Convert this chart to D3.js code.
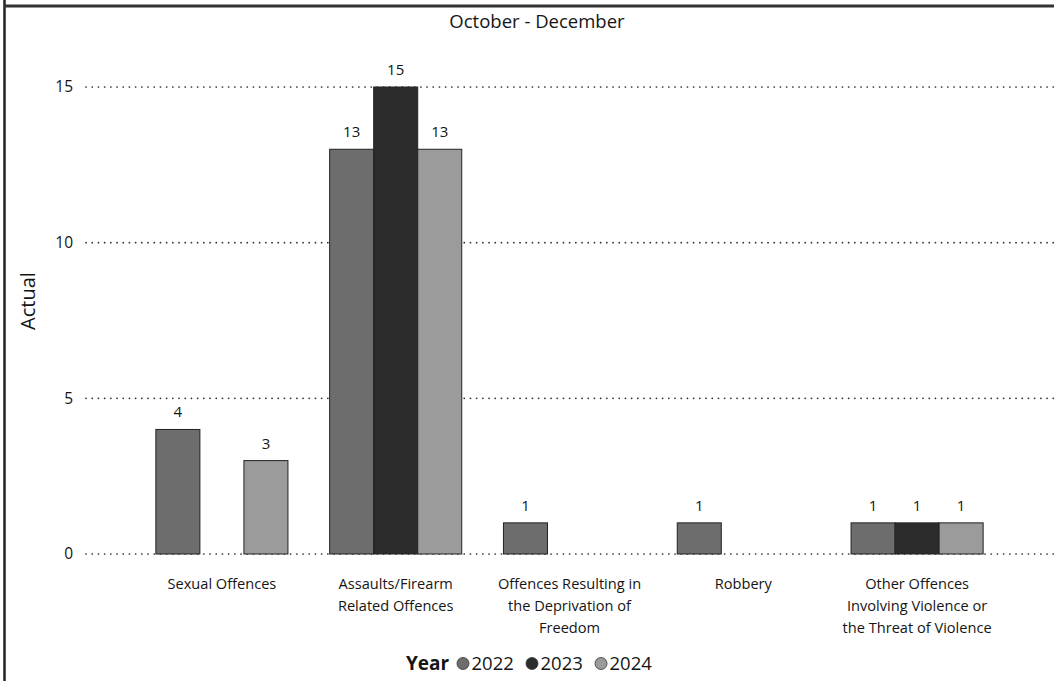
<!DOCTYPE html>
<html><head><meta charset="utf-8">
<script src="https://cdn.jsdelivr.net/npm/d3@7"></script>
<style>body{margin:0;background:#fff}svg{display:block}text{font-family:"Open Sans","Noto Sans",sans-serif;fill:#151515}</style>
</head><body><svg id="c" width="1054" height="681"></svg>
<script>
const categories = [
  ["Sexual Offences"],
  ["Assaults/Firearm", "Related Offences"],
  ["Offences Resulting in", "the Deprivation of", "Freedom"],
  ["Robbery"],
  ["Other Offences", "Involving Violence or", "the Threat of Violence"]
];
const years = ["2022", "2023", "2024"];
const values2022 = [4, 13, 1, 1, 1];
const values2023 = [null, 15, null, null, 1];
const values2024 = [3, 13, null, null, 1];
const yTicks = [0, 5, 10, 15];
const title = "October - December";
const yLabel = "Actual";
const legendTitle = "Year";
const colors = ["#6d6d6d", "#2c2c2c", "#9b9b9b"];

const series = [values2022, values2023, values2024];
const svg = d3.select("#c");

// frame
svg.append("line").attr("x1",4.5).attr("x2",4.5).attr("y1",0).attr("y2",681).attr("stroke","#222").attr("stroke-width",2.5);
svg.append("line").attr("x1",4).attr("x2",1054).attr("y1",6).attr("y2",6).attr("stroke","#333").attr("stroke-width",3);

const catIdx = categories.map((d,i)=>i);
const x = d3.scaleBand().domain(catIdx).range([135,1004]).paddingInner(0.24).paddingOuter(0.12);
const xs = d3.scaleBand().domain(years).range([0, x.bandwidth()]);
const y = d3.scaleLinear().domain([0,15]).range([554,87]);

// grid
const grid = svg.append("g");
yTicks.forEach(t=>{
  grid.append("line").attr("x1",86).attr("x2",1054).attr("y1",y(t)).attr("y2",y(t))
    .attr("stroke","#333").attr("stroke-width",1.7).attr("stroke-dasharray","0.1,6.1").attr("stroke-linecap","round");
});
const yAxis = svg.append("g").attr("transform","translate(73,0)")
  .call(d3.axisLeft(y).tickValues(yTicks).tickSize(0).tickPadding(0));
yAxis.select(".domain").remove();
yAxis.selectAll("text").attr("font-size",15.5).style("font-family","'Open Sans','Noto Sans',sans-serif").attr("fill","#151515");

// bars
series.forEach((vals,si)=>{
  const g = svg.append("g");
  vals.forEach((v,ci)=>{
    if(v==null) return;
    const bx = x(ci)+xs(years[si]);
    g.append("rect").attr("x",bx).attr("y",y(v)).attr("width",xs.bandwidth()).attr("height",y(0)-y(v))
      .attr("fill",colors[si]).attr("stroke","#222").attr("stroke-width",1);
    g.append("text").attr("x",bx+xs.bandwidth()/2).attr("y",y(v)-12).attr("text-anchor","middle")
      .attr("font-size",15).text(v);
  });
});

// x labels
categories.forEach((lines,ci)=>{
  const t = svg.append("text").attr("text-anchor","middle").attr("font-size",14.6);
  lines.forEach((l,li)=>{
    t.append("tspan").attr("x",x(ci)+x.bandwidth()/2).attr("y",589+li*22).text(l);
  });
});

// title
svg.append("text").attr("x",537).attr("y",28).attr("text-anchor","middle").attr("font-size",18.5).text(title);
// y label
svg.append("text").attr("transform","translate(35,301) rotate(-90)").attr("text-anchor","middle").attr("font-size",20).text(yLabel);

// legend
const lg = svg.append("g");
lg.append("text").attr("x",406).attr("y",670).attr("font-size",19).attr("font-weight","bold").text(legendTitle);
const lx = [463, 532, 601];
years.forEach((yr,i)=>{
  lg.append("circle").attr("cx",lx[i]).attr("cy",663.5).attr("r",6).attr("fill",colors[i]).attr("stroke","#333").attr("stroke-width",0.8);
  lg.append("text").attr("x",lx[i]+8.5).attr("y",670).attr("font-size",18.5).text(yr);
});
</script></body></html>
